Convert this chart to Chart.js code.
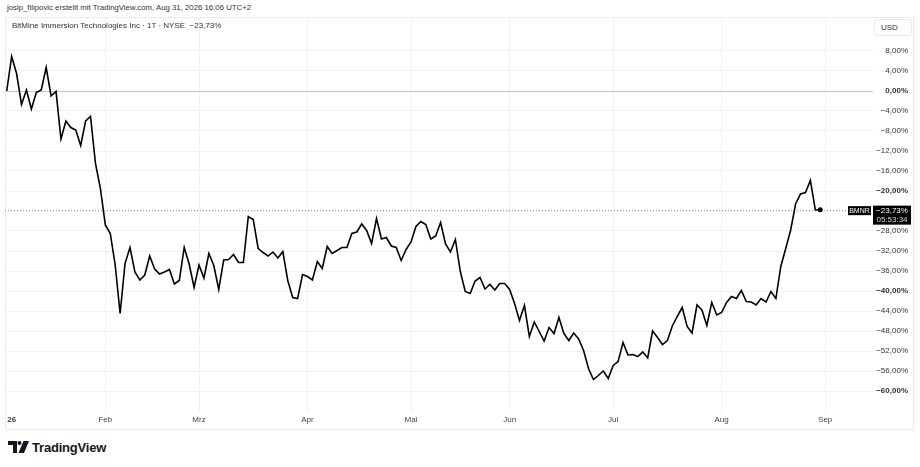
<!DOCTYPE html>
<html>
<head>
<meta charset="utf-8">
<script src="https://cdn.jsdelivr.net/npm/chart.js@4.4.1/dist/chart.umd.min.js"></script>
<style>
  html, body { margin: 0; padding: 0; background: #fff; width: 920px; height: 467px; overflow: hidden;
    font-family: "Liberation Sans", Arial, sans-serif; color: #333; }
  #credit { position: absolute; left: 7px; top: 3px; font-size: 7.8px; line-height: 10px; white-space: nowrap; }
  #frame { position: absolute; left: 5px; top: 17px; width: 907px; height: 411px; border: 1px solid #e9ebf0; }
  #chartBox { position: absolute; left: 5px; top: 17px; width: 908px; height: 412px; }
  #title { position: absolute; left: 12px; top: 21px; font-size: 8px; line-height: 10px; white-space: nowrap; }
  #usd { position: absolute; left: 874px; top: 19px; width: 36px; height: 15px; border: 1px solid #e9ebf0;
    border-radius: 3px; font-size: 8px; line-height: 15px; text-indent: 6px; background: #fff; }
  #logo { position: absolute; left: 8px; top: 439px; height: 16px; display: flex; align-items: center; }
  #logo span { font-weight: bold; font-size: 13px; color: #131722; margin-left: 3px; letter-spacing: -0.2px; }
</style>
</head>
<body>
<div id="credit">josip_filipovic erstellt mit TradingView.com, Aug 31, 2026 16:06 UTC+2</div>
<div id="frame"></div>
<div id="chartBox"><canvas id="myChart"></canvas></div>
<div id="title">BitMine Immersion Technologies Inc · 1T · NYSE&nbsp; −23,73%</div>
<div id="usd">USD</div>
<div id="logo">
  <svg width="21" height="12" viewBox="0 0 21 12">
    <path d="M0 0 H9 V12 H5 V4 H0 Z" fill="#131722"/>
    <circle cx="11.5" cy="2" r="2" fill="#131722"/>
    <path d="M15.5 0 H21 L16 12 H10.5 Z" fill="#131722"/>
  </svg>
  <span>TradingView</span>
</div>

<script>
// Tagesschlusskurse in % seit Jahresbeginn (BMNR, 2026)
var values = [
  0, 6.9, 3.5, -2.7, 0.2, -3.6, -0.3, 0.2, 4.7, -1.0,
  -0.1, -9.6, -6.0, -7.3, -7.8, -10.9, -6.0, -5.1, -14.5, -19.5,
  -26.8, -28.5, -34.8, -44.5, -34.5, -31.3, -36.2, -37.8, -36.8, -33.0,
  -35.6, -36.6, -36.2, -35.7, -38.6, -37.9, -31.3, -34.6, -39.3, -34.8,
  -37.4, -32.5, -34.9, -39.7, -33.8, -33.7, -32.7, -34.3, -34.3, -25.1,
  -25.7, -31.5, -32.3, -33.0, -32.2, -33.4, -32.1, -37.9, -41.3, -41.5,
  -36.7, -37.1, -37.8, -34.1, -35.5, -31.1, -32.5, -31.9, -31.3, -31.3,
  -28.5, -28.2, -26.6, -27.9, -30.5, -25.5, -29.6, -29.3, -31.0, -31.3,
  -33.9, -31.7, -30.2, -27.1, -26.1, -26.7, -29.6, -29.0, -26.3, -30.6,
  -32.2, -29.7, -36.1, -40.1, -40.5, -38.0, -37.3, -39.6, -38.7, -39.8,
  -38.5, -38.5, -39.7, -42.5, -45.9, -42.9, -49.1, -46.2, -48.1, -50.0,
  -47.3, -48.5, -45.3, -48.5, -49.9, -48.4, -49.6, -51.9, -55.5, -57.7,
  -56.9, -56.0, -57.5, -54.9, -54.1, -50.3, -52.8, -52.7, -53.1, -52.2,
  -53.4, -48.0, -49.3, -50.7, -49.9, -47.0, -45.1, -43.3, -47.1, -48.4,
  -42.8, -43.8, -46.9, -42.3, -44.8, -44.3, -42.3, -41.1, -41.5, -39.9,
  -42.1, -42.2, -42.8, -41.5, -42.2, -40.1, -41.5, -35.1, -31.5, -27.8,
  -22.6, -20.6, -20.3, -17.9, -23.8, -23.73
];

// Monatsbeschriftung und Handelstage je Monat
var monthLabels = ['26', 'Feb', 'Mrz', 'Apr', 'Mai', 'Jun', 'Jul', 'Aug', 'Sep'];
var tradingDays = [20, 19, 22, 21, 20, 21, 22, 21];

var yTicks = [8, 4, 0, -4, -8, -12, -16, -20, -24, -28, -32, -36, -40, -44, -48, -52, -56, -60];

var symbol = 'BMNR';
var countdown = '05:53:34';

// Position der Monatsanfänge (Index des ersten Handelstags)
var monthStarts = [0];
tradingDays.forEach(function(n, i) {
  monthStarts.push(monthStarts[i] + n);
});

var FONT = '"Liberation Sans", Arial, sans-serif';

function pct(v) {
  var s = Math.abs(v).toFixed(2).replace('.', ',') + '%';
  return (v < 0 ? '\u2212' : '') + s;
}

// Letzter Kurs: gepunktete Linie + Labels rechts
var lastPricePlugin = {
  id: 'lastPrice',
  beforeDatasetsDraw: function(chart) {
    var ctx = chart.ctx, area = chart.chartArea;
    var y = Math.round(chart.scales.y.getPixelForValue(values[values.length - 1])) + 0.5;
    ctx.save();
    ctx.strokeStyle = '#9598a1';
    ctx.lineWidth = 1;
    ctx.setLineDash([1, 2]);
    ctx.beginPath();
    ctx.moveTo(area.left, y);
    ctx.lineTo(area.right - 25, y);
    ctx.stroke();
    ctx.restore();
  },
  afterDraw: function(chart) {
    var ctx = chart.ctx, area = chart.chartArea;
    var last = values[values.length - 1];
    var y = chart.scales.y.getPixelForValue(last);
    ctx.save();
    // Symbol-Label
    ctx.fillStyle = '#000';
    ctx.fillRect(area.right - 25, y - 3.5, 23, 9);
    ctx.fillStyle = '#fff';
    ctx.font = '7px ' + FONT;
    ctx.textAlign = 'center';
    ctx.textBaseline = 'middle';
    ctx.fillText(symbol, area.right - 13.5, y + 1);
    // Kurs-Label
    ctx.fillStyle = '#000';
    ctx.fillRect(area.right, y - 4, 38, 19);
    ctx.fillStyle = '#fff';
    ctx.font = '8px ' + FONT;
    ctx.fillText(pct(last), area.right + 19, y + 1);
    ctx.fillStyle = '#d1d4dc';
    ctx.fillText(countdown, area.right + 19, y + 10);

    // Monatsbeschriftung
    ctx.fillStyle = '#444';
    ctx.textBaseline = 'middle';
    monthStarts.forEach(function(idx, i) {
      var x = chart.scales.x.getPixelForValue(idx);
      ctx.font = (i === 0 ? 'bold ' : '') + '8px ' + FONT;
      ctx.textAlign = i === 0 ? 'left' : 'center';
      ctx.fillText(monthLabels[i], i === 0 ? x + 0.5 : x, area.bottom + 9);
    });
    ctx.restore();
  }
};

var ctx = document.getElementById('myChart');

var myChart = new Chart(ctx, {
  type: 'line',
  data: {
    datasets: [{
      data: values.map(function(v, i) { return { x: i, y: v }; }),
      borderColor: '#000',
      borderWidth: 1.6,
      tension: 0,
      fill: false,
      pointRadius: function(c) { return c.dataIndex === values.length - 1 ? 2.5 : 0; },
      pointBackgroundColor: '#000',
      pointBorderWidth: 0
    }]
  },
  options: {
    responsive: true,
    maintainAspectRatio: false,
    animation: false,
    layout: { padding: { left: 0, top: 0, bottom: 0, right: 5 }, autoPadding: false },
    plugins: {
      legend: { display: false },
      tooltip: { enabled: false }
    },
    scales: {
      x: {
        type: 'linear',
        min: -0.35,
        max: 175.7,
        afterBuildTicks: function(scale) {
          scale.ticks = monthStarts.map(function(v) { return { value: v }; });
        },
        afterFit: function(scale) {
          scale.height = 18;
          scale.paddingLeft = 0;
          scale.paddingRight = 0;
        },
        grid: {
          color: function(c) { return c.tick && c.tick.value === 0 ? 'rgba(0,0,0,0)' : '#f0f1f4'; },
          drawTicks: false
        },
        border: { display: false },
        ticks: { display: false }
      },
      y: {
        position: 'right',
        min: -64,
        max: 14.8,
        afterBuildTicks: function(scale) {
          scale.ticks = yTicks.map(function(v) { return { value: v }; });
        },
        afterFit: function(scale) {
          scale.width = 35;
          scale.paddingTop = 0;
          scale.paddingBottom = 0;
        },
        grid: {
          color: function(c) { return c.tick && c.tick.value === 0 ? '#c3c5cb' : '#f0f1f4'; },
          drawTicks: false
        },
        border: { display: false },
        ticks: {
          crossAlign: 'far',
          padding: 0,
          color: '#333',
          font: function(c) {
            var major = c.tick && c.tick.value % 20 === 0;
            return { family: FONT, size: 8, weight: major ? 'bold' : 'normal' };
          },
          callback: function(v) { return pct(v); }
        }
      }
    }
  },
  plugins: [lastPricePlugin]
});
</script>
</body>
</html>
